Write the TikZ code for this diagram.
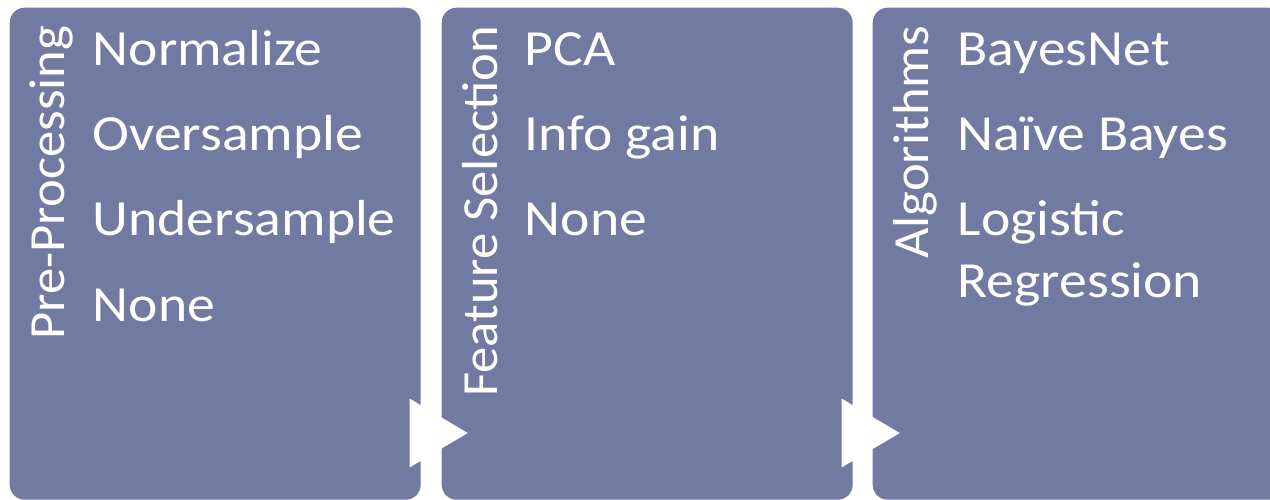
\documentclass[tikz,border=0pt]{standalone}
\usepackage{fontspec}
\setmainfont{Carlito}[FakeStretch=1.1]
\newfontfamily\headfont{Carlito}[FakeStretch=1.04]
\definecolor{slate}{HTML}{717BA1}

\begin{document}
\begin{tikzpicture}[x=1cm,y=-1cm,font=\fontsize{14.4}{17.6}\selectfont,
	b/.style={fill=slate,rounded corners=1.5mm,minimum width=41.1mm,minimum height=49.2mm,anchor=north west,inner sep=0pt},
	h/.style={text=white,font=\headfont\fontsize{14.4}{17.6}\selectfont,rotate=90,anchor=base east,inner sep=0pt},
	t/.style={text=white,anchor=base west,inner sep=0pt},
	arr/.style={fill=white,draw=white,line width=0.8pt,line join=miter}]
	\clip (0,0) rectangle (12.7,4.99);
	\newcommand{\stage}[3]{\node[b] (box#1) at (#2,0.07) {}; \node[h] (head#1) at (#2+0.56,0.25) {#3};}
	\stage{1}{0.09}{Pre-Processing} \stage{2}{4.41}{Feature Selection} \stage{3}{8.72}{Algorithms}
	\foreach \x in {4.11,8.43} \filldraw[arr] (\x,4.01) -- (\x+0.54,4.33) -- (\x,4.65) -- cycle;
	\foreach \x/\y/\t [count=\i] in {0.92/0.65/Normalize,0.92/1.50/Oversample,0.92/2.35/Undersample,0.92/3.21/None,
		5.24/0.65/PCA,5.24/1.50/Info gain,5.24/2.35/None,
		9.57/0.65/BayesNet,9.57/1.50/Naïve Bayes,9.57/2.35/Logistic,9.57/2.97/Regression}
		\node[t] (item\i) at (\x,\y) {\t};
\end{tikzpicture}
\end{document}
